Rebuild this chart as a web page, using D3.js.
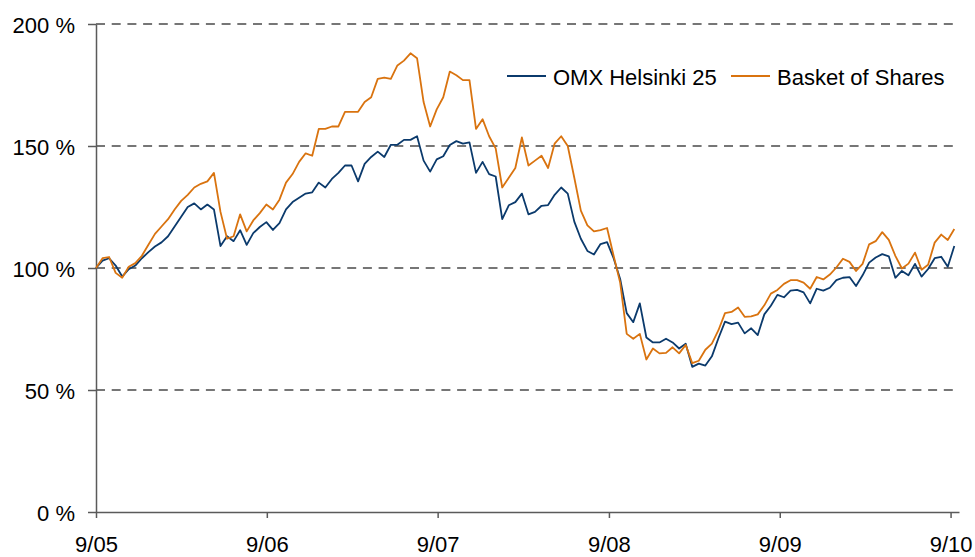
<!DOCTYPE html>
<html>
<head>
<meta charset="utf-8">
<script src="https://cdn.jsdelivr.net/npm/d3@7"></script>
<style>
  body { margin: 0; background: #fff; }
  text { font-family: Arial, "Liberation Sans", sans-serif; }
</style>
</head>
<body>
<svg id="chart" width="975" height="557"></svg>
<script>
// fortnightly readings, 1 Sep 2005 -> Sep 2010, index base 100 %
const startDate = "2005-09-01";
const endDate = "2010-09-19";
const stepDays = 14;

const omx = [
  100, 103, 104, 101, 96.5, 99.5, 101, 104, 106.5, 108.8,
  110.5, 113, 117, 121, 125, 126.5, 124, 126, 124, 109,
  113, 111, 115.5, 109.5, 114.3, 116.8, 118.8, 115.6, 118.4, 124,
  127, 128.8, 130.5, 131, 135, 133, 136.5, 139, 142, 142,
  135.5, 142.7, 145.5, 147.7, 145.5, 150.5, 150.5, 152.5, 152.5, 154,
  144, 139.5, 144.5, 145.8, 150.4, 152, 151, 151.5, 139, 143.5,
  138.5, 137.5, 120, 125.7, 127, 130.5, 122, 123, 125.5, 125.8,
  130, 133, 130.5, 119, 112, 107, 105.5, 109.8, 110.6, 104,
  95.5, 81.5, 77.8, 85.5, 71.5, 69.5, 69.5, 71, 69.5, 67,
  69, 59.5, 60.8, 60, 63.8, 71.2, 78, 77, 77.6, 73.2,
  75.3, 72.5, 81, 84.5, 89, 88, 90.7, 91, 90, 85.5,
  91.5, 90.7, 91.9, 95, 96, 96.3, 92.6, 97, 102.2, 104.3,
  105.7, 104.8, 96, 98.8, 97, 101.7, 96.5, 99.6, 104, 104.6,
  100.5, 109
];

const basket = [
  100, 104, 104.5, 98, 96, 100.5, 102, 105, 109.5, 114,
  117, 120, 124, 127.5, 130, 133, 134.5, 135.5, 139, 123,
  112, 113, 122, 115, 119.5, 122.5, 126, 124, 128, 135,
  138.5, 143.5, 147, 146, 157, 157, 158, 158, 164, 164,
  164, 168, 170, 177.5, 178, 177.5, 183, 185, 188, 186,
  168, 158, 165, 170, 180.5, 179, 177, 177, 157, 161,
  154, 149, 133, 137, 141, 153.5, 142, 144, 146, 141,
  151, 154, 150, 137, 123.5, 117.5, 115, 115.5, 116.4, 105,
  94, 73, 71, 73, 62.5, 67, 65, 65.2, 67.5, 65,
  68.5, 61, 62, 66.5, 69, 74.5, 81.5, 82, 83.8, 80,
  80.2, 81, 84.7, 89.5, 91, 93.5, 95, 95, 94, 91.5,
  96.3, 95.3, 97.3, 100.2, 103.8, 102.5, 98.8, 101.7, 109.7, 111,
  114.7, 111.5, 105, 99.8, 101.8, 106.3, 99.3, 101.3, 110.4, 113.7,
  111.5, 116
];

const xTicks = ["2005-09-01", "2006-09-01", "2007-09-01", "2008-09-01", "2009-09-01", "2010-09-01"];
const yTicks = [0, 50, 100, 150, 200];
const seriesNames = ["OMX Helsinki 25", "Basket of Shares"];
const seriesColors = ["#0b3a6c", "#d9730f"];

const parse = d3.utcParse("%Y-%m-%d");
const dates = omx.map((_, i) => d3.utcDay.offset(parse(startDate), i * stepDays));

const width = 975;
const height = 557;
const margin = { top: 24, right: 16, bottom: 45, left: 96 };

const svg = d3.select("#chart");

svg
  .append("rect")
  .attr("width", width)
  .attr("height", height)
  .attr("fill", "#fff");

const x = d3
  .scaleUtc()
  .domain([parse(startDate), parse(endDate)])
  .range([margin.left, width - margin.right]);

const y = d3
  .scaleLinear()
  .domain([0, 200])
  .range([height - margin.bottom, margin.top]);

// dashed grid
svg
  .append("g")
  .selectAll("line")
  .data(yTicks.filter(d => d > 0))
  .join("line")
  .attr("x1", margin.left)
  .attr("x2", width - margin.right)
  .attr("y1", d => y(d))
  .attr("y2", d => y(d))
  .attr("stroke", "#4a4a4a")
  .attr("stroke-width", 1.3)
  .attr("stroke-dasharray", "9,6.7");

const yAxis = svg
  .append("g")
  .attr("transform", `translate(${margin.left},0)`)
  .call(
    d3.axisLeft(y)
      .tickValues(yTicks)
      .tickFormat(d => d + " %")
      .tickSize(8)
      .tickSizeOuter(0)
      .tickPadding(13)
  );

const xAxis = svg
  .append("g")
  .attr("transform", `translate(0,${y(0)})`)
  .call(
    d3.axisBottom(x)
      .tickValues(xTicks.map(parse))
      .tickFormat(d3.utcFormat("%-m/%y"))
      .tickSize(6)
      .tickSizeOuter(0)
      .tickPadding(18)
  );

[yAxis, xAxis].forEach(g => {
  g.selectAll("path, line").attr("stroke", "#5a5a5a").attr("stroke-width", 1.5);
  g.selectAll("text")
    .attr("font-size", 22)
    .attr("font-family", "Arial, 'Liberation Sans', sans-serif")
    .attr("fill", "#000");
});
yAxis.selectAll("text").attr("dy", "0.38em");

const line = d3
  .line()
  .x((d, i) => x(dates[i]))
  .y(d => y(d));

[omx, basket].forEach((series, k) => {
  svg
    .append("path")
    .datum(series)
    .attr("fill", "none")
    .attr("stroke", seriesColors[k])
    .attr("stroke-width", 1.8)
    .attr("stroke-linejoin", "round")
    .attr("d", line);
});

// legend
const legendX = [507, 731];
seriesNames.forEach((name, k) => {
  svg
    .append("line")
    .attr("x1", legendX[k])
    .attr("x2", legendX[k] + 39)
    .attr("y1", 76)
    .attr("y2", 76)
    .attr("stroke", seriesColors[k])
    .attr("stroke-width", 1.8);

  svg
    .append("text")
    .attr("x", legendX[k] + 46)
    .attr("y", 84.5)
    .attr("font-size", 22)
    .attr("fill", "#000")
    .text(name);
});
</script>
</body>
</html>
